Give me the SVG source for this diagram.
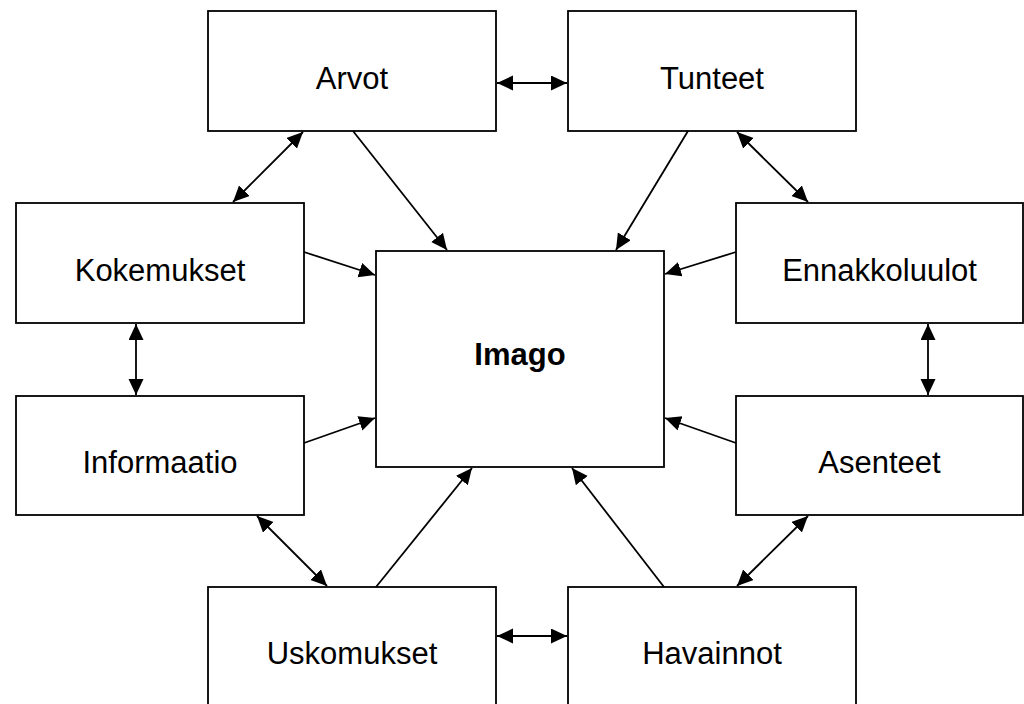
<svg xmlns="http://www.w3.org/2000/svg" width="1024" height="704" viewBox="0 0 1024 704">
  <defs>
    <marker id="head" markerUnits="userSpaceOnUse" markerWidth="18" markerHeight="18" refX="16" refY="7.5" orient="auto-start-reverse">
      <path d="M0,0 L16,7.5 L0,15 Z" fill="#000"/>
    </marker>
    <style>
      .box { fill: #fff; stroke: #000; stroke-width: 1.8; }
      .lbl { font-family: "Liberation Sans", Arial, sans-serif; font-size: 31px; fill: #000; text-anchor: middle; }
      .bold { font-weight: bold; }
      .one { stroke: #000; stroke-width: 1.8; fill: none; marker-end: url(#head); }
      .two { stroke: #000; stroke-width: 1.8; fill: none; marker-start: url(#head); marker-end: url(#head); }
    </style>
  </defs>
  <rect width="1024" height="704" fill="#fff"/>

  <g id="arvot">
    <rect class="box" x="208" y="11" width="288" height="120"/>
    <text class="lbl" x="352" y="89">Arvot</text>
  </g>
  <g id="tunteet">
    <rect class="box" x="568" y="11" width="288" height="120"/>
    <text class="lbl" x="712" y="89">Tunteet</text>
  </g>
  <g id="kokemukset">
    <rect class="box" x="16" y="203" width="288" height="120"/>
    <text class="lbl" x="160" y="281">Kokemukset</text>
  </g>
  <g id="ennakkoluulot">
    <rect class="box" x="736" y="203" width="287" height="120"/>
    <text class="lbl" x="879.5" y="281">Ennakkoluulot</text>
  </g>
  <g id="informaatio">
    <rect class="box" x="16" y="396" width="288" height="119"/>
    <text class="lbl" x="160" y="473">Informaatio</text>
  </g>
  <g id="asenteet">
    <rect class="box" x="736" y="396" width="287" height="119"/>
    <text class="lbl" x="879.5" y="473">Asenteet</text>
  </g>
  <g id="imago">
    <rect class="box" x="376" y="251" width="288" height="216"/>
    <text class="lbl bold" x="520" y="365">Imago</text>
  </g>
  <g id="uskomukset">
    <rect class="box" x="208" y="587" width="288" height="122"/>
    <text class="lbl" x="352" y="664">Uskomukset</text>
  </g>
  <g id="havainnot">
    <rect class="box" x="568" y="587" width="288" height="122"/>
    <text class="lbl" x="712" y="664">Havainnot</text>
  </g>

  <g id="connectors">
    <!-- mutual links between neighbouring boxes -->
    <line class="two" x1="497" y1="83" x2="567" y2="83"/>
    <line class="two" x1="497" y1="636" x2="567" y2="636"/>
    <line class="two" x1="136" y1="324" x2="136" y2="395"/>
    <line class="two" x1="928" y1="324" x2="928" y2="395"/>
    <line class="two" x1="303" y1="132" x2="233" y2="202"/>
    <line class="two" x1="737" y1="132" x2="808" y2="202"/>
    <line class="two" x1="257" y1="516" x2="327" y2="586"/>
    <line class="two" x1="808" y1="516" x2="737" y2="586"/>
    <!-- influences on the central image -->
    <line class="one" x1="353" y1="131" x2="447" y2="250"/>
    <line class="one" x1="688" y1="131" x2="616" y2="250"/>
    <line class="one" x1="304" y1="252" x2="375" y2="275"/>
    <line class="one" x1="736" y1="252" x2="665" y2="274"/>
    <line class="one" x1="304" y1="443" x2="375" y2="418"/>
    <line class="one" x1="736" y1="443" x2="665" y2="418"/>
    <line class="one" x1="376" y1="587" x2="472" y2="468"/>
    <line class="one" x1="664" y1="587" x2="572" y2="468"/>
  </g>
</svg>
